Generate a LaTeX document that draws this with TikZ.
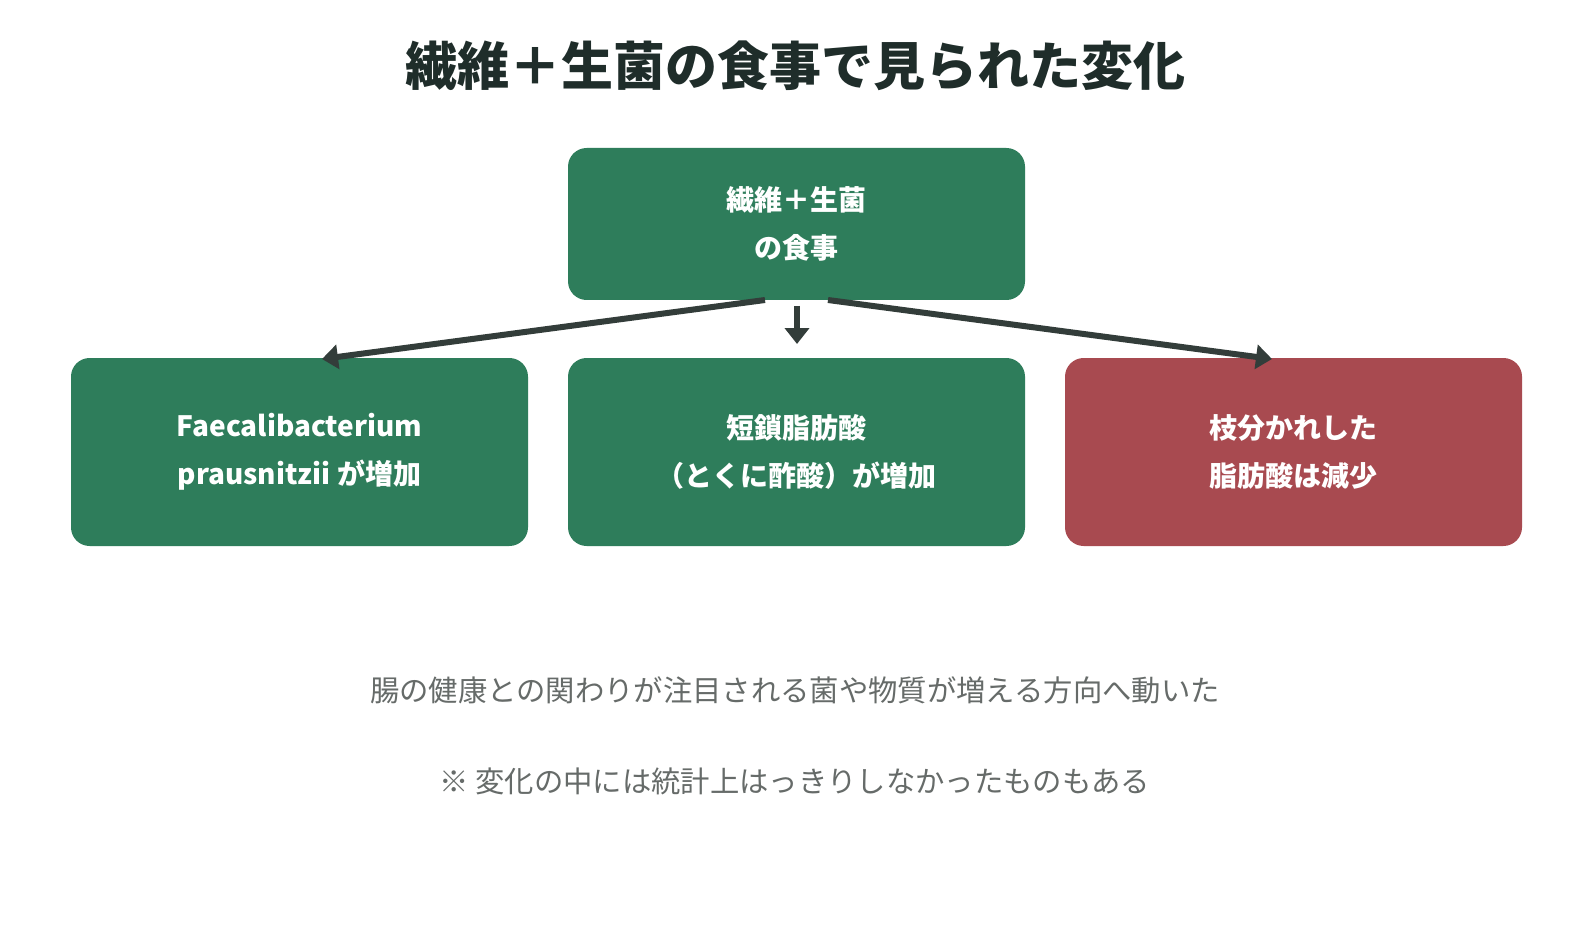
\documentclass[tikz,border=0pt]{standalone}
\usepackage{fontspec}
\setmainfont{Noto Sans CJK JP}
\usetikzlibrary{arrows.meta}
\definecolor{grn}{HTML}{2E7D5B}
\definecolor{rd}{HTML}{A84A50}
\definecolor{dk}{HTML}{333D3A}
\definecolor{ttl}{HTML}{1F2D2A}
\definecolor{gry}{HTML}{666B69}
\begin{document}
\begin{tikzpicture}[x=0.75pt,y=-0.75pt,
 box/.style={rounded corners=14pt,text=white,font=\bfseries\fontsize{21}{36}\selectfont,align=center,inner sep=0pt},
 arr/.style={draw=dk,line width=4.5pt,-{Triangle[length=12pt,width=18pt]}}]
\useasboundingbox[fill=white] (0,0) rectangle (1590,948);
\node[font=\bfseries\fontsize{39}{44}\selectfont,text=ttl] (title) at (795,66) {繊維＋生菌の食事で見られた変化};
\fill[grn,rounded corners=14pt] (568,148) rectangle (1025,300);
\node[box] (top) at (796.5,224) {繊維＋生菌\\の食事};
\fill[grn,rounded corners=14pt] (71,358) rectangle (528,546);
\node[box] (l) at (299.5,452) {Faecalibacterium\\prausnitzii が増加};
\fill[grn,rounded corners=14pt] (568,358) rectangle (1025,546);
\node[box] (m) at (796.5,452) {短鎖脂肪酸\\（とくに酢酸）が増加};
\fill[rd,rounded corners=14pt] (1065,358) rectangle (1522,546);
\node[box] (r) at (1293.5,452) {枝分かれした\\脂肪酸は減少};
\coordinate (s1) at (765,300); \coordinate (e1) at (322,359);
\coordinate (s2) at (797,306); \coordinate (e2) at (797,344);
\coordinate (s3) at (828,300); \coordinate (e3) at (1272,359);
\draw[arr] (s1) -- (e1);
\draw[arr] (s2) -- (e2);
\draw[arr] (s3) -- (e3);
\node[font=\fontsize{22}{26}\selectfont,text=gry] (n1) at (795,690) {腸の健康との関わりが注目される菌や物質が増える方向へ動いた};
\node[font=\fontsize{22}{26}\selectfont,text=gry] (n2) at (795,781) {※ 変化の中には統計上はっきりしなかったものもある};
\end{tikzpicture}
\end{document}
